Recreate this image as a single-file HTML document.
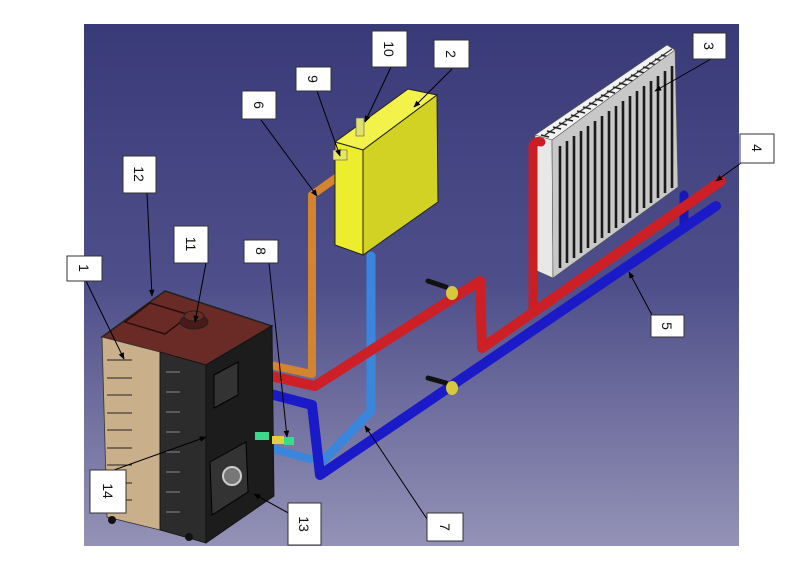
<!DOCTYPE html>
<html><head><meta charset="utf-8"><style>
html,body{margin:0;padding:0;background:#fff;}
svg{display:block;}
text{font-family:"Liberation Sans",sans-serif;font-size:14px;fill:#111;}
</style></head><body>
<svg width="791" height="577" viewBox="0 0 791 577" xmlns="http://www.w3.org/2000/svg">
<defs>
<linearGradient id="bg" x1="0" y1="0" x2="0" y2="1">
<stop offset="0" stop-color="#393a78"/>
<stop offset="0.5" stop-color="#4e4f8a"/>
<stop offset="1" stop-color="#9492b6"/>
</linearGradient>
<marker id="ah" viewBox="0 0 10 10" refX="9" refY="5" markerWidth="7" markerHeight="7" orient="auto">
<path d="M0,1 L10,5 L0,9 z" fill="#000"/>
</marker>
</defs>
<rect x="0" y="0" width="791" height="577" fill="#fff"/>
<rect x="84" y="24" width="655" height="522" fill="url(#bg)"/>

<!-- radiator -->
<polygon points="535,135 667,45 675,50 552,140" fill="#f2f2f2" stroke="#555" stroke-width="0.6"/>
<g stroke="#333" stroke-width="1.2">
<path d="M545,135 L672,49"/>
</g>
<g stroke="#222" stroke-width="1.6">
<path d="M541,135l8,2M547,131l8,2M553,127l8,2M559,123l8,2M565,119l8,2M571,115l8,2M577,111l8,2M583,107l8,2M589,103l8,2M595,99l8,2M601,95l8,2M607,91l8,2M613,87l8,2M619,83l8,2M625,79l8,2M631,75l8,2M637,71l8,2M643,67l8,2M649,63l8,2M655,59l8,2M661,55l8,2"/>
</g>
<polygon points="535,135 552,140 553,278 535,270" fill="#e8e8e8" stroke="#555" stroke-width="0.6"/>
<polygon points="552,140 675,50 678,187 553,278" fill="#c8c8c8" stroke="#555" stroke-width="0.6"/>
<g stroke="#1a1a1a" stroke-width="2.6">
<path d="M560,146 V268 M567,141 V263 M574,136 V258 M581,131 V253 M588,126 V248 M595,121 V243 M602,116 V238 M609,111 V233 M616,106 V228 M623,101 V223 M630,96 V218 M637,91 V213 M644,86 V208 M651,81 V203 M658,76 V198 M665,71 V193 M672,66 V188"/>
</g>

<!-- pipes -->
<g fill="none" stroke-linejoin="round" stroke-linecap="round">
<path d="M533,146 V312" stroke="#c81e24" stroke-width="9"/>
<path d="M533,146 q2,-6 8,-4" stroke="#c81e24" stroke-width="9"/>
<path d="M684,195 V226" stroke="#1818b8" stroke-width="9"/>
<path d="M371,256 V411 L322,462" stroke="#3a86dc" stroke-width="9"/>
<path d="M244,441 L310,459" stroke="#3a86dc" stroke-width="8"/>
<path d="M244,387 L312,405 L320,475 L716,206" stroke="#1a1ac8" stroke-width="10"/>
<path d="M244,370 L315,386 L480,281 L482,348 L721,181" stroke="#cc1f26" stroke-width="10"/>
<path d="M256,362 L312,374 V195 L350,168" stroke="#d4842e" stroke-width="8"/>
</g>
<g>
<path d="M428,281 L446,287" stroke="#111" stroke-width="5" stroke-linecap="round"/>
<ellipse cx="452" cy="293" rx="6" ry="7" fill="#d8c840"/>
<path d="M428,378 L446,383" stroke="#111" stroke-width="5" stroke-linecap="round"/>
<ellipse cx="452" cy="388" rx="6" ry="7" fill="#d8c840"/>
</g>

<!-- tank -->
<polygon points="335,142 408,89 437,95 363,150" fill="#f2f24a" stroke="#222" stroke-width="1"/>
<polygon points="335,142 363,150 363,255 335,245" fill="#eded30" stroke="#222" stroke-width="1"/>
<polygon points="363,150 437,95 438,202 363,255" fill="#d2d224" stroke="#222" stroke-width="1"/>
<rect x="356" y="118" width="8" height="18" fill="#e0e070" stroke="#555" stroke-width="0.6"/>
<rect x="333" y="150" width="14" height="10" fill="#e8e860" stroke="#555" stroke-width="0.6"/>

<!-- boiler -->
<polygon points="102,337 165,291 272,326 206,365" fill="#6a2a26" stroke="#222" stroke-width="1.5"/>
<polygon points="125,322 150,303 190,315 165,334" fill="none" stroke="#2a0e0c" stroke-width="1.5"/>
<ellipse cx="194" cy="322" rx="14" ry="7" fill="#4a1a18" stroke="#222"/>
<ellipse cx="194" cy="316" rx="10" ry="5" fill="#6a2a26" stroke="#222"/>
<polygon points="102,337 160,352 160,530 107,517" fill="#c9b08a" stroke="#333" stroke-width="0.8"/>
<polygon points="160,352 206,365 206,543 160,530" fill="#2c2c2c" stroke="#111" stroke-width="0.8"/>
<polygon points="206,365 272,326 274,496 206,543" fill="#1c1c1c" stroke="#111" stroke-width="0.8"/>
<polygon points="214,375 238,362 238,395 214,408" fill="#333" stroke="#000"/>
<polygon points="210,462 246,442 248,492 212,515" fill="#333" stroke="#000"/>
<circle cx="232" cy="476" r="9" fill="#777" stroke="#ccc" stroke-width="2"/>
<g stroke="#222" stroke-width="1">
<path d="M107,360h25M107,378h25M107,395h25M107,413h25M107,430h25M107,448h25M107,465h25M107,483h25M107,500h25"/>
</g>
<g stroke="#888" stroke-width="1">
<path d="M166,372h14M166,392h14M166,412h14M166,432h14M166,452h14M166,472h14M166,492h14M166,512h14"/>
</g>
<rect x="255" y="432" width="14" height="8" fill="#3ed88c"/>
<rect x="272" y="436" width="12" height="8" fill="#e0d040"/>
<rect x="284" y="437" width="10" height="8" fill="#3ed88c"/>
<circle cx="112" cy="520" r="4" fill="#111"/><circle cx="189" cy="537" r="4" fill="#111"/>

<!-- leaders -->
<g stroke="#000" stroke-width="1" marker-end="url(#ah)">
<path d="M391,67 L365,122"/><path d="M452,69 L414,107"/><path d="M317,91 L340,156"/>
<path d="M261,120 L317,196"/><path d="M147,193 L152,296"/><path d="M206,263 L195,322"/>
<path d="M86,281 L124,359"/><path d="M269,263 L287,437"/><path d="M711,59 L655,91"/>
<path d="M741,163 L716,181"/><path d="M652,315 L629,272"/><path d="M114,470 L206,437"/>
<path d="M292,515 L254,494"/><path d="M429,522 L365,426"/>
</g>

<!-- label boxes -->
<g fill="#fff" stroke="#333" stroke-width="1">
<rect x="372" y="31" width="35" height="36"/><rect x="434" y="40" width="35" height="28"/>
<rect x="296" y="67" width="35" height="24"/><rect x="242" y="91" width="34" height="28"/>
<rect x="123" y="156" width="33" height="37"/><rect x="174" y="226" width="34" height="37"/>
<rect x="67" y="256" width="35" height="25"/><rect x="244" y="240" width="34" height="23"/>
<rect x="693" y="33" width="33" height="26"/><rect x="740" y="134" width="34" height="29"/>
<rect x="651" y="315" width="33" height="22"/><rect x="90" y="470" width="36" height="43"/>
<rect x="288" y="503" width="33" height="42"/><rect x="427" y="513" width="36" height="28"/>
</g>
<g text-anchor="middle" dominant-baseline="central">
<text transform="translate(389,49) rotate(90)">10</text>
<text transform="translate(451,54) rotate(90)">2</text>
<text transform="translate(313,79) rotate(90)">9</text>
<text transform="translate(259,105) rotate(90)">6</text>
<text transform="translate(139,174) rotate(90)">12</text>
<text transform="translate(191,244) rotate(90)">11</text>
<text transform="translate(84,268) rotate(90)">1</text>
<text transform="translate(261,251) rotate(90)">8</text>
<text transform="translate(709,46) rotate(90)">3</text>
<text transform="translate(757,148) rotate(90)">4</text>
<text transform="translate(667,326) rotate(90)">5</text>
<text transform="translate(108,491) rotate(90)">14</text>
<text transform="translate(304,524) rotate(90)">13</text>
<text transform="translate(445,527) rotate(90)">7</text>
</g>
</svg>
</body></html>
